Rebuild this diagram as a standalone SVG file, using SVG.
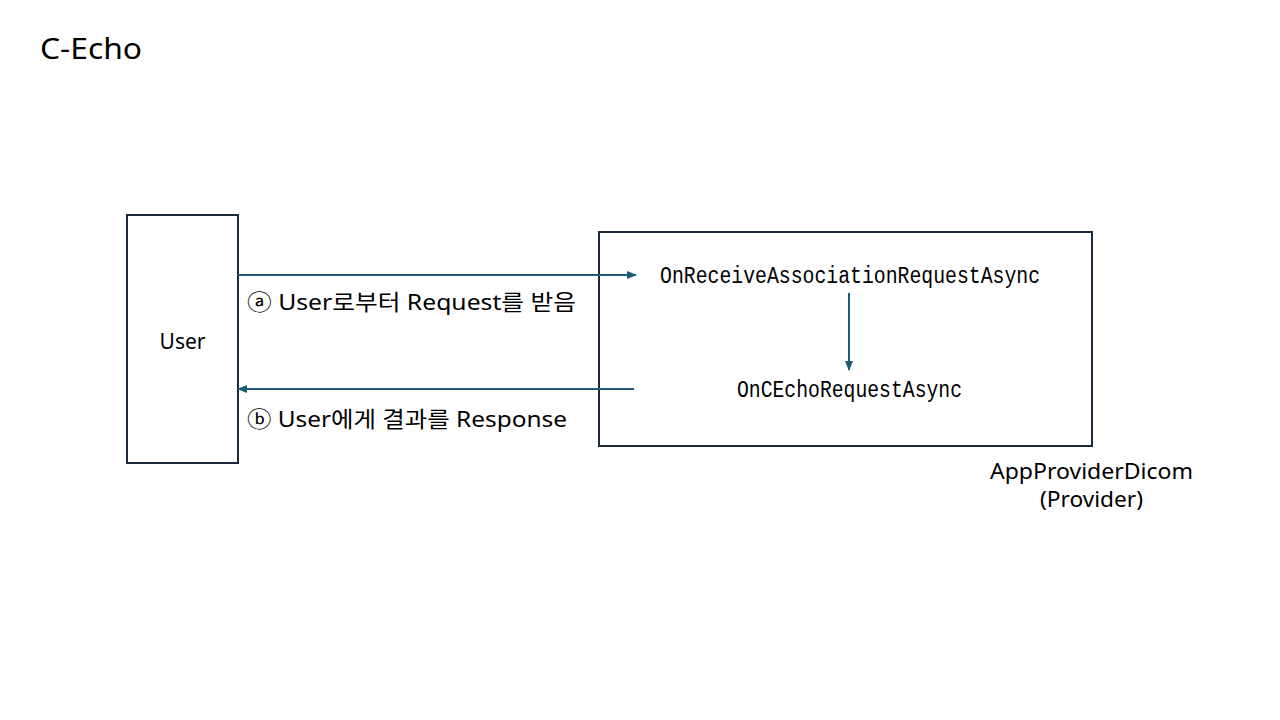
<svg xmlns="http://www.w3.org/2000/svg" width="1280" height="720" viewBox="0 0 1280 720">
<style>
.box{fill:#fff;stroke:#1b2a3a;stroke-width:2}
.t{font-family:"Noto Sans","Noto Sans CJK KR",sans-serif;fill:#000}
.m{font-family:"Liberation Mono","DejaVu Sans Mono",monospace;fill:#000}
.c{stroke:#1f5a78;stroke-width:2;fill:none}
</style>
<defs>
<marker id="ah" markerWidth="10" markerHeight="10" refX="9" refY="5" orient="auto" markerUnits="userSpaceOnUse">
<path d="M0,1 L10,5 L0,9 Z" fill="#1f5a78"/>
</marker>
</defs>
<rect width="1280" height="720" fill="#fff"/>
<text class="t" x="40" y="59" font-size="29" textLength="102" lengthAdjust="spacingAndGlyphs">C-Echo</text>
<g id="user">
<rect class="box" x="127" y="215" width="111" height="248"/>
<text class="t" x="182.5" y="349" font-size="21" text-anchor="middle">User</text>
</g>
<g id="provider">
<rect class="box" x="599" y="232" width="493" height="214"/>
<text class="t" x="990" y="479" font-size="22" textLength="203" lengthAdjust="spacingAndGlyphs">AppProviderDicom</text>
<text class="t" x="1040" y="507" font-size="22" textLength="103" lengthAdjust="spacingAndGlyphs">(Provider)</text>
</g>
<g id="onreceive">
<text class="m" x="660" y="283" font-size="23" textLength="380" lengthAdjust="spacingAndGlyphs">OnReceiveAssociationRequestAsync</text>
</g>
<g id="onecho">
<text class="m" x="737" y="397" font-size="23" textLength="225" lengthAdjust="spacingAndGlyphs">OnCEchoRequestAsync</text>
</g>
<g id="connectors">
<line class="c" x1="238" y1="275" x2="636" y2="275" marker-end="url(#ah)"/>
<line class="c" x1="849" y1="293" x2="849" y2="370" marker-end="url(#ah)"/>
<line class="c" x1="634" y1="389" x2="238" y2="389" marker-end="url(#ah)"/>
</g>
<g id="labels">
<text class="t" x="247" y="310" font-size="22" textLength="329" lengthAdjust="spacingAndGlyphs">ⓐ User로부터 Request를 받음</text>
<text class="t" x="247" y="427" font-size="22" textLength="320" lengthAdjust="spacingAndGlyphs">ⓑ User에게 결과를 Response</text>
</g>
</svg>
